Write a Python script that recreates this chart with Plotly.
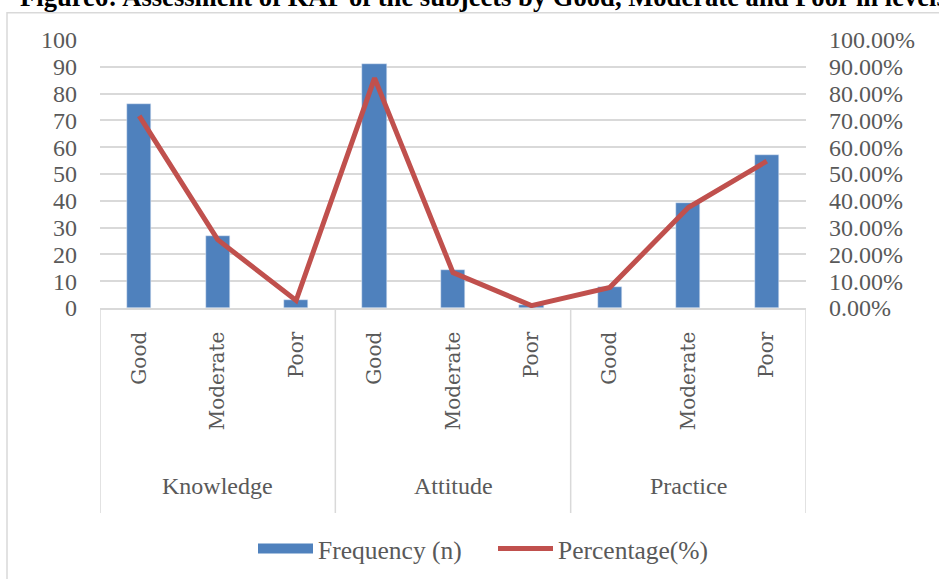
import plotly.graph_objects as go

groups = ["Knowledge", "Attitude", "Practice"]
levels = ["Good", "Moderate", "Poor"]
frequency = [76, 27, 3, 91, 14, 1, 8, 39, 57]
percentage = [0.717, 0.255, 0.028, 0.858, 0.132, 0.009, 0.077, 0.375, 0.548]
title_text = "Figure6: Assessment of KAP of the subjects by Good, Moderate and Poor in levels"

tick_labels = [lv for g in groups for lv in levels]
xs = list(range(len(tick_labels)))

BLUE = "#4F81BD"
RED = "#C0504D"
GRID = "#D9D9D9"
TXT = "#595959"
SERIF = "Liberation Serif"

PLOT_L, PLOT_R, PLOT_T, PLOT_B = 100, 806, 40, 308
W, H = 939, 579
PW = PLOT_R - PLOT_L
PH = PLOT_B - PLOT_T


def py(pix):
    return (PLOT_B - pix) / PH


def px(pix):
    return (pix - PLOT_L) / PW


fig = go.Figure()
fig.add_trace(go.Bar(x=xs, y=frequency, width=0.31, marker=dict(color=BLUE),
                     name="Frequency (n)", showlegend=False))
fig.add_trace(go.Scatter(x=xs, y=percentage, yaxis="y2", mode="lines",
                         line=dict(color=RED, width=5), name="Percentage(%)",
                         showlegend=False))
# legend entries
fig.add_trace(go.Scatter(x=[None], y=[None], mode="lines",
                         line=dict(color=BLUE, width=12), name="Frequency (n)"))
fig.add_trace(go.Scatter(x=[None], y=[None], mode="lines",
                         line=dict(color=RED, width=5), name="Percentage(%)"))

shapes = []
# outer chart border
shapes.append(dict(type="rect", xref="paper", yref="paper",
                   x0=px(7), x1=px(1000), y0=py(650), y1=py(12.7),
                   line=dict(color=GRID, width=1.5), fillcolor="rgba(0,0,0,0)", layer="below"))
# category dividers
for k in range(len(groups) + 1):
    shapes.append(dict(type="line", xref="x", yref="paper",
                       x0=k * 3 - 0.5, x1=k * 3 - 0.5, y0=0, y1=py(513),
                       line=dict(color=GRID, width=1.5)))

annotations = []
for i, g in enumerate(groups):
    annotations.append(dict(x=i * 3 + 1, xref="x", y=py(486), yref="paper",
                            text=g, showarrow=False, yanchor="middle",
                            font=dict(family=SERIF, size=24, color=TXT)))
annotations.append(dict(x=px(18), xref="paper", y=py(-3), yref="paper",
                        text="<b>" + title_text + "</b>", showarrow=False,
                        xanchor="left", yanchor="middle",
                        font=dict(family=SERIF, size=26.6, color="black")))

fig.update_layout(
    width=W, height=H,
    margin=dict(l=PLOT_L, r=W - PLOT_R, t=PLOT_T, b=H - PLOT_B, autoexpand=False),
    paper_bgcolor="white", plot_bgcolor="white",
    font=dict(family=SERIF, color=TXT),
    xaxis=dict(range=[-0.5, 8.5], tickmode="array", tickvals=xs, ticktext=tick_labels,
               tickangle=-90, tickfont=dict(family="DejaVu Serif", size=20, color=TXT),
               showline=True, linecolor=GRID, linewidth=1.5, showgrid=False,
               zeroline=False, ticks="", ticklabelstandoff=14),
    yaxis=dict(range=[0, 100], dtick=10, showgrid=True, gridcolor=GRID, gridwidth=1.5,
               zeroline=False, showline=False, ticks="",
               tickfont=dict(family=SERIF, size=24, color=TXT), ticklabelstandoff=22),
    yaxis2=dict(range=[0, 1], dtick=0.1, overlaying="y", side="right", tickformat=".2%",
                showgrid=False, zeroline=False, showline=False, ticks="",
                tickfont=dict(family=SERIF, size=24, color=TXT), ticklabelstandoff=22),
    legend=dict(orientation="h", x=px(493), xanchor="center", y=py(549), yanchor="middle",
                font=dict(family=SERIF, size=25.5, color=TXT), itemwidth=55,
                entrywidth=170, entrywidthmode="pixels",
                bgcolor="rgba(0,0,0,0)"),
    shapes=shapes, annotations=annotations, bargap=0,
)

fig.write_html("out.html", config={"displayModeBar": False},
               post_script="document.body.style.margin='0';document.body.style.overflow='hidden';")
